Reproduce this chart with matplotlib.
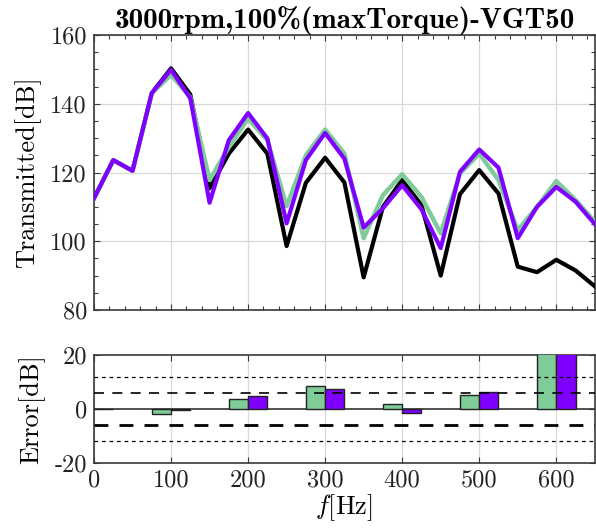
import numpy as np
import matplotlib
matplotlib.use("Agg")
import matplotlib.pyplot as plt
from matplotlib.ticker import MultipleLocator, FuncFormatter

freq = [0, 25, 50, 75, 100, 125, 150, 175, 200, 225, 250, 275, 300, 325,
        350, 375, 400, 425, 450, 475, 500, 525, 550, 575, 600, 625, 650]
measured = [112.5, 123.6, 120.5, 143.1, 150.3, 142.7, 115.4, 125.5, 132.5, 125.5, 98.6, 117.0, 124.3, 117.1,
            89.5, 110.0, 117.8, 110.5, 90.0, 113.7, 120.7, 113.9, 92.6, 91.0, 94.6, 91.5, 86.9]
model_a = [112.5, 123.6, 120.5, 143.1, 148.4, 141.9, 117.8, 127.4, 135.7, 129.4, 110.2, 125.0, 132.5, 125.5,
           100.9, 113.4, 119.5, 112.9, 102.3, 119.7, 125.5, 117.8, 103.2, 110.0, 117.5, 112.0, 105.7]
model_b = [112.5, 123.6, 120.5, 143.1, 149.9, 141.6, 111.2, 129.4, 137.3, 129.9, 105.2, 123.6, 131.5, 124.0,
           104.0, 109.6, 116.3, 109.3, 98.0, 120.2, 126.7, 121.4, 100.9, 110.0, 115.8, 111.5, 105.0]

bands = [0, 100, 200, 300, 400, 500, 600]
err_a = [0.0, -2.0, 3.5, 8.4, 1.9, 5.0, 22.6]
err_b = [0.0, -0.3, 4.7, 7.2, -1.5, 6.1, 21.3]

green = "#80CC99"
purple = "#7F00FF"
spine_c = "#3a3a3a"

plt.rcParams['font.family'] = 'cmr10'
plt.rcParams['mathtext.fontset'] = 'cm'
plt.rcParams['axes.unicode_minus'] = False

TICK_FS = 17.5
LAB_FS = 19

fig = plt.figure(figsize=(5.96, 5.29), dpi=100)
ax1 = fig.add_axes([0.1577, 0.414, 0.8403, 0.5198])
ax2 = fig.add_axes([0.1577, 0.1253, 0.8403, 0.2037])

fmt = FuncFormatter(lambda v, p: "%d" % v)

ax1.plot(freq, measured, color='black', lw=3.0, zorder=3)
ax1.plot(freq, model_a, color=green, lw=3.2, zorder=4)
ax1.plot(freq, model_b, color=purple, lw=3.0, zorder=5)
ax1.set_xlim(0, 650)
ax1.set_ylim(80, 160)
ax1.xaxis.set_major_locator(MultipleLocator(100))
ax1.xaxis.set_minor_locator(MultipleLocator(20))
ax1.yaxis.set_major_locator(MultipleLocator(20))
ax1.yaxis.set_minor_locator(MultipleLocator(5))
ax1.yaxis.set_major_formatter(fmt)
ax1.set_xticklabels([])
ax1.grid(True, which='major', color='#d9d9d9', lw=0.9)
ax1.set_ylabel('Transmitted[dB]', fontsize=LAB_FS, labelpad=7)
ax1.set_title('3000rpm,100%(maxTorque)-VGT50', fontsize=21, family='cmb10', pad=4)

w = 25
ax2.bar(np.array(bands) - w / 2, err_a, width=w, color=green, edgecolor='#222222', lw=1.0, zorder=3)
ax2.bar(np.array(bands) + w / 2, err_b, width=w, color=purple, edgecolor='#222222', lw=1.0, zorder=3)
ax2.axhline(0, color='#333333', lw=1.2, zorder=2)
ax2.axhline(12, color='black', lw=0.9, ls=(0, (3, 3)), zorder=4)
ax2.axhline(-12, color='black', lw=0.9, ls=(0, (3, 3)), zorder=4)
ax2.axhline(6, color='black', lw=1.2, ls=(0, (6, 5)), zorder=4)
ax2.axhline(-6, color='black', lw=2.0, ls=(0, (5, 4)), zorder=4)
ax2.set_xlim(0, 650)
ax2.set_ylim(-20, 20)
ax2.xaxis.set_major_locator(MultipleLocator(100))
ax2.yaxis.set_major_locator(MultipleLocator(20))
ax2.yaxis.set_major_formatter(fmt)
ax2.xaxis.set_major_formatter(fmt)
ax2.grid(True, axis='x', which='major', color='#d9d9d9', lw=0.9)
ax2.set_ylabel('Error[dB]', fontsize=LAB_FS, labelpad=7)
ax2.set_xlabel(r'$f$[Hz]', fontsize=LAB_FS, labelpad=0)

for ax in (ax1, ax2):
    ax.set_axisbelow(True)
    for s in ax.spines.values():
        s.set_color(spine_c)
        s.set_linewidth(1.2)
    ax.tick_params(which='both', direction='in', top=True, right=True, colors=spine_c,
                   labelcolor='#222222', labelsize=TICK_FS, pad=5)
    ax.tick_params(which='major', length=4, width=0.8)
    ax.tick_params(which='minor', length=3, width=0.8)

fig.savefig('out.png', dpi=100)
